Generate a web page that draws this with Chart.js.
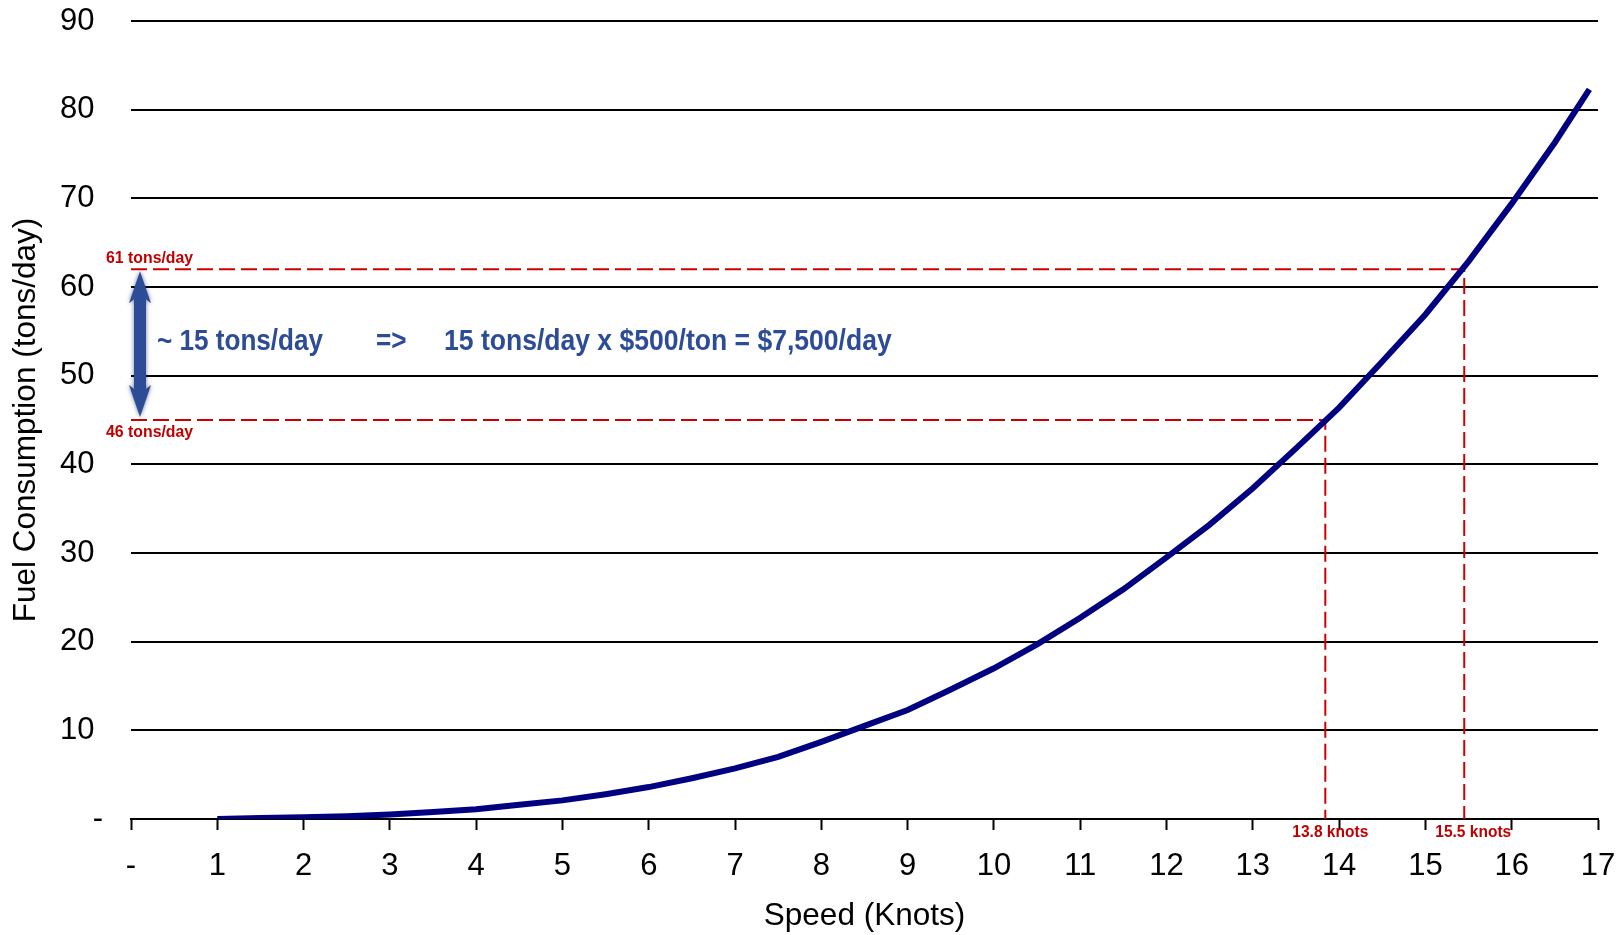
<!DOCTYPE html>
<html lang="en">
  <head>
    <meta charset="UTF-8" />
    <title>Fuel Consumption vs Speed</title>
    <script src="https://cdn.jsdelivr.net/npm/chart.js"></script>
    <style>
      html, body { margin: 0; padding: 0; background: #fff; }
    </style>
  </head>
  <body>
    <canvas id="fuelChart" width="1618" height="935"></canvas>

    <script>
      // speed (knots) and fuel burn (tons/day)
      const speeds = [1, 1.5, 2, 2.5, 3, 3.5, 4, 4.5, 5, 5.5, 6, 6.5, 7, 7.5, 8, 8.5, 9,
        9.5, 10, 10.5, 11, 11.5, 12, 12.5, 13, 13.5, 14, 14.5, 15, 15.5, 16, 16.5, 16.9];
      const fuel = [0.0, 0.1, 0.2, 0.3, 0.5, 0.8, 1.1, 1.6, 2.1, 2.8, 3.6, 4.6, 5.7, 7.0, 8.7, 10.5, 12.3,
        14.6, 17.0, 19.7, 22.7, 25.9, 29.5, 33.2, 37.3, 41.8, 46.4, 51.6, 56.9, 62.9, 69.4, 76.3, 82.3];

      // reference marks (dashed lines)
      const markSpeeds = [13.84, 15.45];
      const markFuel = [45, 62];
      const markSpeedLabels = ["13.8 knots", "15.5 knots"];
      const markFuelLabels = ["46 tons/day", "61 tons/day"];
      const noteLabels = ["~ 15 tons/day", "=>", "15 tons/day x $500/ton = $7,500/day"];

      const FONT = "'Liberation Sans', Arial, Helvetica, sans-serif";
      const RED = "#C00000";
      const BLUE = "#2D4C97";

      function dashedPath(speed, level) {
        return [
          { x: 0, y: level },
          { x: speed, y: level },
          { x: speed, y: 0 },
        ];
      }

      function drawText(ctx, text, x, y, size, color, align, squeeze) {
        ctx.save();
        ctx.font = "bold " + size + "px " + FONT;
        ctx.fillStyle = color;
        ctx.textBaseline = "middle";
        ctx.textAlign = align;
        ctx.translate(x, y);
        ctx.scale(squeeze, 1);
        ctx.fillText(text, 0, 0);
        ctx.restore();
      }

      const notes = {
        id: "notes",
        afterDatasetsDraw(chart) {
          const { ctx, scales } = chart;
          const xs = scales.x, ys = scales.y;
          const x0 = xs.getPixelForValue(0);
          const yLow = ys.getPixelForValue(markFuel[0]);
          const yHigh = ys.getPixelForValue(markFuel[1]);
          const yAxis = ys.getPixelForValue(0);

          // red value labels
          drawText(ctx, markFuelLabels[1], x0 - 25, yHigh - 11, 16, RED, "left", 0.99);
          drawText(ctx, markFuelLabels[0], x0 - 25, yLow + 13, 16, RED, "left", 0.99);
          markSpeeds.forEach((s, i) => {
            drawText(ctx, markSpeedLabels[i], xs.getPixelForValue(s) + 5 + i * 4, yAxis + 14, 16, RED, "center", 0.97);
          });

          // double arrow
          const ax = x0 + 9;
          const top = yHigh + 2, bot = yLow - 3;
          const head = 32, half = 11, shaft = 6;
          ctx.save();
          ctx.fillStyle = BLUE;
          ctx.shadowColor = "rgba(20, 30, 80, 0.6)";
          ctx.shadowBlur = 4;
          ctx.beginPath();
          ctx.moveTo(ax, top);
          ctx.lineTo(ax + half, top + head);
          ctx.lineTo(ax + shaft, top + head - 4);
          ctx.lineTo(ax + shaft, bot - head + 4);
          ctx.lineTo(ax + half, bot - head);
          ctx.lineTo(ax, bot);
          ctx.lineTo(ax - half, bot - head);
          ctx.lineTo(ax - shaft, bot - head + 4);
          ctx.lineTo(ax - shaft, top + head - 4);
          ctx.lineTo(ax - half, top + head);
          ctx.closePath();
          ctx.fill();
          ctx.restore();

          // blue note text
          const ny = (yLow + yHigh) / 2 - 3;
          drawText(ctx, noteLabels[0], x0 + 26, ny, 29, BLUE, "left", 0.9);
          drawText(ctx, noteLabels[1], x0 + 245, ny, 29, BLUE, "left", 0.9);
          drawText(ctx, noteLabels[2], x0 + 313, ny, 29, BLUE, "left", 0.915);
        },
      };

      Chart.defaults.font.family = FONT;
      Chart.defaults.color = "#000";

      const ctx = document.getElementById("fuelChart").getContext("2d");
      const fuelChart = new Chart(ctx, {
        type: "line",
        data: {
          datasets: [
            {
              label: "Fuel Consumption",
              data: speeds.map((s, i) => ({ x: s, y: fuel[i] })),
              borderColor: "#000080",
              borderWidth: 6,
              pointRadius: 0,
              pointHoverRadius: 0,
              tension: 0,
              fill: false,
            },
            {
              label: "low mark",
              data: dashedPath(markSpeeds[0], markFuel[0]),
              borderColor: "#CC0000",
              borderWidth: 2,
              borderDash: [16, 6],
              pointRadius: 0,
              pointHoverRadius: 0,
              fill: false,
            },
            {
              label: "high mark",
              data: dashedPath(markSpeeds[1], markFuel[1]),
              borderColor: "#CC0000",
              borderWidth: 2,
              borderDash: [16, 6],
              pointRadius: 0,
              pointHoverRadius: 0,
              fill: false,
            },
          ],
        },
        options: {
          responsive: false,
          animation: false,
          devicePixelRatio: 1,
          layout: { autoPadding: false, padding: { top: 21, right: 20, bottom: 0, left: 0 } },
          plugins: {
            legend: { display: false },
            tooltip: { enabled: false },
          },
          scales: {
            x: {
              type: "linear",
              min: 0,
              max: 17,
              afterFit: (scale) => {
                scale.height = 116;
                scale.paddingLeft = 0;
                scale.paddingRight = 0;
              },
              ticks: {
                stepSize: 1,
                padding: 18,
                font: { size: 31 },
                callback: (v) => (v === 0 ? "-" : v),
              },
              grid: {
                drawOnChartArea: false,
                drawTicks: true,
                tickLength: 11,
                tickColor: "#000",
                tickWidth: 2,
              },
              border: { display: true, color: "#000", width: 2 },
              title: {
                display: true,
                text: "Speed (Knots)",
                font: { size: 31.5 },
                padding: { top: 0, bottom: 0 },
              },
            },
            y: {
              min: 0,
              max: 90,
              afterFit: (scale) => {
                scale.width = 131;
                scale.paddingTop = 0;
                scale.paddingBottom = 0;
              },
              ticks: {
                stepSize: 10,
                padding: 28,
                font: { size: 31 },
                // accounting-style labels: the dash sits a little further right
                callback: (v) => (v === 0 ? "-" : v + " "),
              },
              grid: {
                color: "#000",
                lineWidth: 2,
                drawTicks: false,
              },
              border: { display: false },
              title: {
                display: true,
                text: "Fuel Consumption (tons/day)",
                font: { size: 31.5 },
                padding: { top: 7, bottom: 0 },
              },
            },
          },
        },
        plugins: [notes],
      });
    </script>
  </body>
</html>
